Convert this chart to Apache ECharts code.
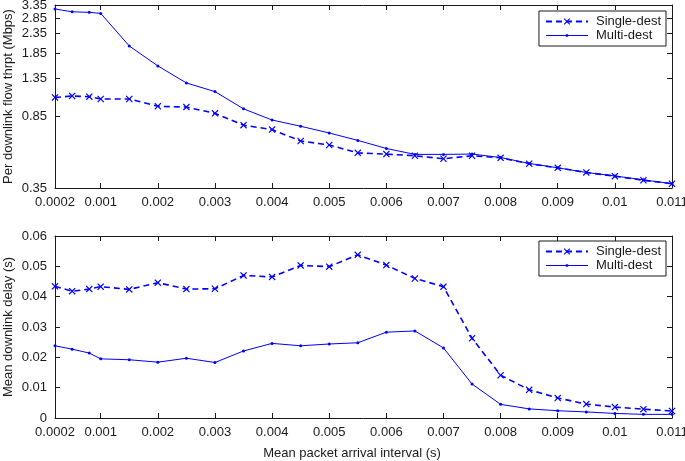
<!DOCTYPE html>
<html><head><meta charset="utf-8">
<script src="https://cdn.jsdelivr.net/npm/echarts@6/dist/echarts.min.js"></script>
<style>html,body{margin:0;padding:0;background:#fff}#c{width:685px;height:461px}</style>
</head><body><div id="c"></div>
<script>
const intervals = [0.0002,0.0005,0.0008,0.001,0.0015,0.002,0.0025,0.003,0.0035,0.004,0.0045,0.005,0.0055,0.006,0.0065,0.007,0.0075,0.008,0.0085,0.009,0.0095,0.01,0.0105,0.011];
const singleThrpt = [1.07,1.09,1.08,1.05,1.05,0.96,0.95,0.88,0.76,0.72,0.625,0.595,0.54,0.532,0.521,0.502,0.521,0.508,0.472,0.449,0.424,0.405,0.385,0.369];
const multiThrpt = [3.19,3.08,3.06,3.02,2.02,1.58,1.28,1.15,0.93,0.81,0.75,0.69,0.63,0.57,0.53,0.53,0.532,0.51,0.474,0.449,0.424,0.406,0.387,0.369];
const singleDelay = [0.0434,0.0418,0.0425,0.0433,0.0424,0.0446,0.0425,0.0426,0.0470,0.0465,0.0503,0.0499,0.0538,0.0504,0.0460,0.0433,0.0263,0.0141,0.0093,0.0066,0.0046,0.0036,0.0029,0.0023];
const multiDelay = [0.0238,0.0227,0.0214,0.0195,0.0192,0.0184,0.0197,0.0183,0.0221,0.0246,0.0238,0.0244,0.0248,0.0283,0.0287,0.0231,0.0112,0.0045,0.0030,0.0024,0.0020,0.0015,0.0012,0.0012];
const xTicks = [0.0002,0.001,0.002,0.003,0.004,0.005,0.006,0.007,0.008,0.009,0.01,0.011];
const thrptTicks = [0.35,0.85,1.35,1.85,2.35,2.85,3.35];
const seriesNames = ['Single-dest','Multi-dest'];
const xTitle = 'Mean packet arrival interval (s)';
const yTitleTop = 'Per downlink flow thrpt (Mbps)';
const yTitleBottom = 'Mean downlink delay (s)';

const FONT = 'Liberation Sans, Arial, Helvetica, sans-serif';
const FS = 13;
const AX = '#1a1a1a';
const BLUE = '#0000ff';
const XSYM = 'path://M0,1.2L1.2,0L5,3.8L8.8,0L10,1.2L6.2,5L10,8.8L8.8,10L5,6.2L1.2,10L0,8.8L3.8,5Z';
const MULTI_ICON = 'path://M0,3.6L42,3.6L42,4.4L0,4.4Z M19.8,2.8L22.2,2.8L22.2,5.2L19.8,5.2Z';

const chart = echarts.init(document.getElementById('c'), null, {renderer:'canvas'});

function xAxisDef(grid, pos, labels) {
  return {
    type:'value', gridIndex:grid, position:pos, min:0.0002, max:0.011,
    axisLine:{show:true, onZero:false, lineStyle:{color:AX, width:1}},
    axisTick:{show:true, inside:true, length:5, customValues:xTicks, lineStyle:{color:AX}},
    axisLabel:{show:labels, customValues:xTicks, margin:8, color:AX, fontSize:FS, fontFamily:FONT,
      formatter:v=>String(+v.toFixed(4))},
    splitLine:{show:false}
  };
}
function legendDef(top) {
  return {orient:'vertical', right:19, top:top,
    data:[{name:seriesNames[0]}, {name:seriesNames[1], icon:MULTI_ICON}],
    itemWidth:42, itemHeight:8, itemGap:1,
    padding:[4,5,4,6], backgroundColor:'#fff', borderColor:AX, borderWidth:1, borderRadius:0,
    textStyle:{color:AX, fontSize:FS, fontFamily:FONT, padding:[0,0,0,3]}, selectedMode:false};
}
const option = {
  animation:false,
  backgroundColor:'#fff',
  textStyle:{fontFamily:FONT},
  grid:[
    {left:55, right:13, top:5, height:183, outerBoundsMode:'none', containLabel:false},
    {left:55, right:13, top:236, height:182, outerBoundsMode:'none', containLabel:false}
  ],
  xAxis:[
    xAxisDef(0,'bottom',true), xAxisDef(0,'top',false),
    xAxisDef(1,'bottom',true), xAxisDef(1,'top',false)
  ],
  yAxis:[
    {type:'log', gridIndex:0, position:'left', min:0.35, max:3.35,
     name:yTitleTop, nameLocation:'middle', nameGap:40, nameMoveOverlap:false,
     nameTextStyle:{color:AX, fontSize:FS, fontFamily:FONT},
     axisLine:{show:true, lineStyle:{color:AX}},
     axisTick:{show:true, inside:true, length:5, customValues:thrptTicks, lineStyle:{color:AX}},
     axisLabel:{customValues:thrptTicks, margin:8, color:AX, fontSize:FS, fontFamily:FONT, formatter:v=>(+v).toFixed(2)},
     splitLine:{show:false}, minorTick:{show:false}},
    {type:'log', gridIndex:0, position:'right', min:0.35, max:3.35,
     axisLine:{show:true, lineStyle:{color:AX}},
     axisTick:{show:true, inside:true, length:5, customValues:thrptTicks, lineStyle:{color:AX}},
     axisLabel:{show:false, customValues:thrptTicks},
     splitLine:{show:false}},
    {type:'value', gridIndex:1, position:'left', min:0, max:0.06, interval:0.01,
     name:yTitleBottom, nameLocation:'middle', nameGap:40, nameMoveOverlap:false,
     nameTextStyle:{color:AX, fontSize:FS, fontFamily:FONT},
     axisLine:{show:true, onZero:false, lineStyle:{color:AX}},
     axisTick:{show:true, inside:true, length:5, lineStyle:{color:AX}},
     axisLabel:{margin:8, color:AX, fontSize:FS, fontFamily:FONT, formatter:v=>String(+v.toFixed(2))},
     splitLine:{show:false}},
    {type:'value', gridIndex:1, position:'right', min:0, max:0.06, interval:0.01,
     axisLine:{show:true, onZero:false, lineStyle:{color:AX}},
     axisTick:{show:true, inside:true, length:5, lineStyle:{color:AX}},
     axisLabel:{show:false},
     splitLine:{show:false}}
  ],
  legend:[legendDef(11), legendDef(241)],
  graphic:[
    {type:'text', x:352, y:453, style:{text:xTitle, fill:AX, font:FS+'px '+FONT, textAlign:'center', textVerticalAlign:'middle'}}
  ],
  series:[
    {name:seriesNames[0], type:'line', xAxisIndex:0, yAxisIndex:0,
     data:intervals.map((x,i)=>[x,singleThrpt[i]]), symbol:XSYM, symbolSize:7, showAllSymbol:true, clip:false,
     lineStyle:{color:BLUE, width:1.6, type:[6,4]}, itemStyle:{color:BLUE}},
    {name:seriesNames[1], type:'line', xAxisIndex:0, yAxisIndex:0,
     data:intervals.map((x,i)=>[x,multiThrpt[i]]), symbol:'circle', symbolSize:3, showAllSymbol:true, clip:false,
     lineStyle:{color:BLUE, width:1}, itemStyle:{color:BLUE}},
    {name:seriesNames[0], type:'line', xAxisIndex:2, yAxisIndex:2,
     data:intervals.map((x,i)=>[x,singleDelay[i]]), symbol:XSYM, symbolSize:7, showAllSymbol:true, clip:false,
     lineStyle:{color:BLUE, width:1.6, type:[6,4]}, itemStyle:{color:BLUE}},
    {name:seriesNames[1], type:'line', xAxisIndex:2, yAxisIndex:2,
     data:intervals.map((x,i)=>[x,multiDelay[i]]), symbol:'circle', symbolSize:3, showAllSymbol:true, clip:false,
     lineStyle:{color:BLUE, width:1}, itemStyle:{color:BLUE}}
  ]
};
chart.setOption(option);
</script></body></html>
